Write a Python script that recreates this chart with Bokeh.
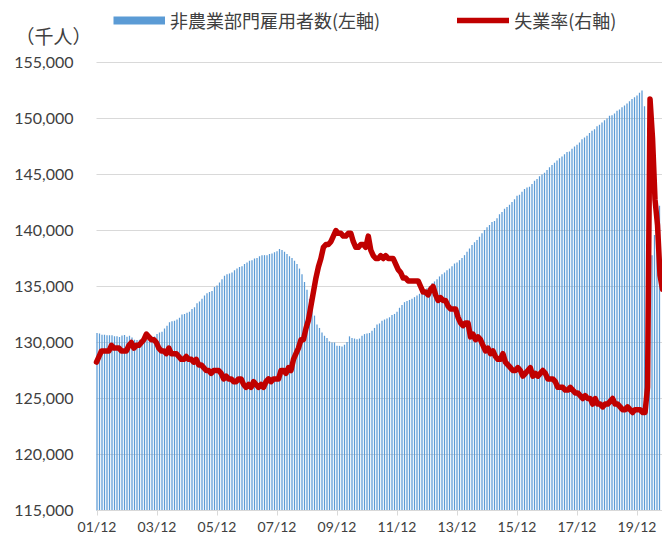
from bokeh.plotting import figure
from bokeh.models import Range1d, FixedTicker, Legend, LegendItem, Label, NumeralTickFormatter, LinearAxis
from bokeh.embed import file_html
from bokeh.resources import INLINE

# 非農業部門雇用者数 (千人), monthly 2001/12 .. 2020/09
payroll = [
    130850,
    130800, 130700, 130700, 130650, 130650, 130650, 130550, 130550, 130500, 130620, 130660, 130520,
    130600, 130450, 130250, 130230, 130250, 130250, 130250, 130230, 130330, 130520, 130540, 130750,
    130900, 130950, 131250, 131500, 131800, 131900, 131950, 132050, 132200, 132500, 132550, 132650,
    132750, 133000, 133150, 133500, 133650, 133900, 134200, 134400, 134500, 134600, 134950, 135100,
    135350, 135650, 135950, 136100, 136150, 136250, 136450, 136600, 136750, 136800, 137000, 137150,
    137300, 137350, 137500, 137550, 137700, 137800, 137800, 137800, 137900, 137950, 138050, 138150,
    138350, 138250, 138100, 137900, 137700, 137550, 137300, 137000, 136600, 136100, 135400, 134700,
    133900, 133200, 132400, 131600, 131300, 130900, 130600, 130400, 130100, 130000, 130000, 129700,
    129700, 129650, 129800, 130050, 130550, 130400, 130350, 130300, 130350, 130600, 130750, 130800,
    130850, 131050, 131300, 131600, 131700, 131950, 132050, 132150, 132250, 132450, 132550, 132750,
    133100, 133350, 133600, 133700, 133800, 133900, 134050, 134200, 134350, 134500, 134650, 134850,
    135050, 135300, 135450, 135650, 135900, 136100, 136250, 136450, 136600, 136800, 137050, 137150,
    137350, 137550, 137800, 138100, 138400, 138700, 138950, 139150, 139450, 139750, 140050, 140300,
    140500, 140750, 140850, 141100, 141450, 141650, 141950, 142100, 142300, 142550, 142800, 143100,
    143200, 143450, 143700, 143850, 143900, 144150, 144450, 144600, 144850, 145000, 145150, 145400,
    145650, 145850, 146050, 146250, 146450, 146600, 146800, 147000, 147050, 147300, 147500, 147650,
    147850, 148150, 148300, 148450, 148700, 148900, 149050, 149300, 149450, 149650, 149850, 150000,
    150250, 150300, 150450, 150700, 150800, 151000, 151150, 151350, 151550, 151750, 151900, 152050,
    152300, 152500, 151100, 130300, 133000, 137800, 139600, 141100, 142200,
]

# 失業率 (%), monthly 2001/10 .. 2020/09
unemployment = [
    5.3, 5.5, 5.7,
    5.7, 5.7, 5.7, 5.9, 5.8, 5.8, 5.8, 5.7, 5.7, 5.7, 5.9, 6.0,
    5.8, 5.9, 5.9, 6.0, 6.1, 6.3, 6.2, 6.1, 6.1, 6.0, 5.8, 5.7,
    5.7, 5.6, 5.8, 5.6, 5.6, 5.6, 5.5, 5.4, 5.4, 5.5, 5.4, 5.4,
    5.3, 5.4, 5.2, 5.2, 5.1, 5.0, 5.0, 4.9, 5.0, 5.0, 5.0, 4.9,
    4.7, 4.8, 4.7, 4.7, 4.6, 4.6, 4.7, 4.7, 4.5, 4.4, 4.5, 4.4,
    4.6, 4.5, 4.4, 4.5, 4.4, 4.6, 4.7, 4.6, 4.7, 4.7, 4.7, 5.0,
    5.0, 4.9, 5.1, 5.0, 5.4, 5.6, 5.8, 6.1, 6.1, 6.5, 6.8, 7.3,
    7.8, 8.3, 8.7, 9.0, 9.4, 9.5, 9.5, 9.6, 9.8, 10.0, 9.9, 9.9,
    9.8, 9.8, 9.9, 9.9, 9.6, 9.4, 9.4, 9.5, 9.5, 9.4, 9.8, 9.3,
    9.1, 9.0, 9.0, 9.1, 9.0, 9.1, 9.0, 9.0, 9.0, 8.8, 8.6, 8.5,
    8.3, 8.3, 8.2, 8.2, 8.2, 8.2, 8.2, 8.0, 7.8, 7.8, 7.7, 7.9,
    8.0, 7.7, 7.5, 7.6, 7.5, 7.5, 7.3, 7.2, 7.2, 7.2, 6.9, 6.7,
    6.6, 6.7, 6.7, 6.2, 6.3, 6.1, 6.2, 6.1, 5.9, 5.7, 5.8, 5.6,
    5.7, 5.5, 5.4, 5.4, 5.6, 5.3, 5.2, 5.1, 5.0, 5.0, 5.1, 5.0,
    4.8, 4.9, 5.0, 5.1, 4.8, 4.9, 4.8, 4.9, 5.0, 4.9, 4.7, 4.7,
    4.7, 4.6, 4.4, 4.4, 4.4, 4.3, 4.3, 4.4, 4.3, 4.2, 4.2, 4.1,
    4.0, 4.1, 4.0, 4.0, 3.8, 4.0, 3.8, 3.8, 3.7, 3.8, 3.8, 3.9,
    4.0, 3.8, 3.8, 3.7, 3.6, 3.6, 3.7, 3.6, 3.5, 3.6, 3.6, 3.6,
    3.5, 3.5, 4.4, 14.7, 13.3, 11.1, 10.2, 8.4, 7.9,
]

x_tick_labels = ["01/12", "03/12", "05/12", "07/12", "09/12",
                 "11/12", "13/12", "15/12", "17/12", "19/12"]
y_ticks = [115000, 120000, 125000, 130000, 135000, 140000, 145000, 150000, 155000]

bar_x = list(range(len(payroll)))
line_x = list(range(len(unemployment)))
x_ticks = [24 * k for k in range(len(x_tick_labels))]

# geometry (pixels)
W, H = 662, 534
PL, PT, PB = 96, 62, 510           # plot-area left / top / bottom
PX = 2.5                           # px per month
ypx = (y_ticks[-1] - y_ticks[0]) / (PB - PT)
x0 = -0.2
n_line = len(unemployment) - 1
lpx = (W - PL) / n_line

p = figure(width=W, height=H, output_backend="svg", toolbar_location=None,
           x_range=Range1d(x0 - PL / PX, x0 + (W - PL) / PX),
           y_range=Range1d(y_ticks[0] - (H - PB) * ypx, y_ticks[-1] + PT * ypx),
           min_border=0, x_axis_location=None, y_axis_location=None)
p.outline_line_color = None
p.background_fill_color = "white"
p.border_fill_color = "white"
p.xgrid.visible = False
p.ygrid.visible = False

upx = 28.0  # px per 1% on the (hidden) right axis
p.extra_x_ranges = {"ux": Range1d(-PL / lpx, n_line)}
p.extra_y_ranges = {"uy": Range1d(-(H - PB) / upx, PB / upx)}

# left axis: labels + gridlines drawn as long inward ticks, behind the data
yax = LinearAxis(fixed_location=x0, bounds=(y_ticks[0], y_ticks[-1]),
                 ticker=FixedTicker(ticks=y_ticks),
                 formatter=NumeralTickFormatter(format="0,0"), level="underlay")
yax.axis_line_color = None
yax.major_tick_line_color = "#D9D9D9"
yax.major_tick_line_width = 1
yax.major_tick_in = W - PL
yax.major_tick_out = 0
yax.minor_tick_line_color = None
yax.major_label_standoff = 23
yax.major_label_text_font = "Lato"
yax.major_label_text_font_size = "16px"
yax.major_label_text_color = "#404040"
p.add_layout(yax, "left")

bars = p.vbar(x=bar_x, top=payroll, bottom=y_ticks[0], width=0.5,
              fill_color="#5B9BD5", line_color=None)
line = p.line(x=line_x, y=unemployment, x_range_name="ux", y_range_name="uy",
              line_color="#C00000", line_width=5.5, line_join="round", line_cap="round")
nan = float("nan")
swatch = p.line(x=[nan, nan], y=[nan, nan], line_color="#5B9BD5", line_width=8,
                line_cap="butt")

xax = LinearAxis(fixed_location=y_ticks[0], bounds=(x0, x0 + (W - PL) / PX),
                 ticker=FixedTicker(ticks=x_ticks))
xax.major_label_overrides = {t: lab for t, lab in zip(x_ticks, x_tick_labels)}
xax.axis_line_color = "#D9D9D9"
xax.major_tick_line_color = "#D9D9D9"
xax.major_tick_in = 0
xax.major_tick_out = 5
xax.minor_tick_line_color = None
xax.major_label_standoff = 2
xax.major_label_text_font = "Lato"
xax.major_label_text_font_size = "14px"
xax.major_label_text_color = "#404040"
p.add_layout(xax, "below")

legend = Legend(items=[LegendItem(label="非農業部門雇用者数(左軸)", renderers=[swatch]),
                       LegendItem(label="失業率(右軸)", renderers=[line])],
                orientation="horizontal", location=(113, H - 7 - 26),
                glyph_width=52, glyph_height=26, label_height=26, label_standoff=5,
                spacing=77, padding=0, margin=0, border_line_color=None,
                background_fill_alpha=0,
                label_text_font="Noto Sans CJK JP", label_text_font_size="18px",
                label_text_color="#404040")
p.add_layout(legend)

title = Label(x=15, y=H - 35, x_units="screen", y_units="screen", text="（千人）",
              text_font="Noto Sans CJK JP", text_font_size="19px", text_color="#404040",
              text_baseline="middle", text_align="left")
p.add_layout(title)

open("out.html", "w").write(file_html(p, INLINE))
